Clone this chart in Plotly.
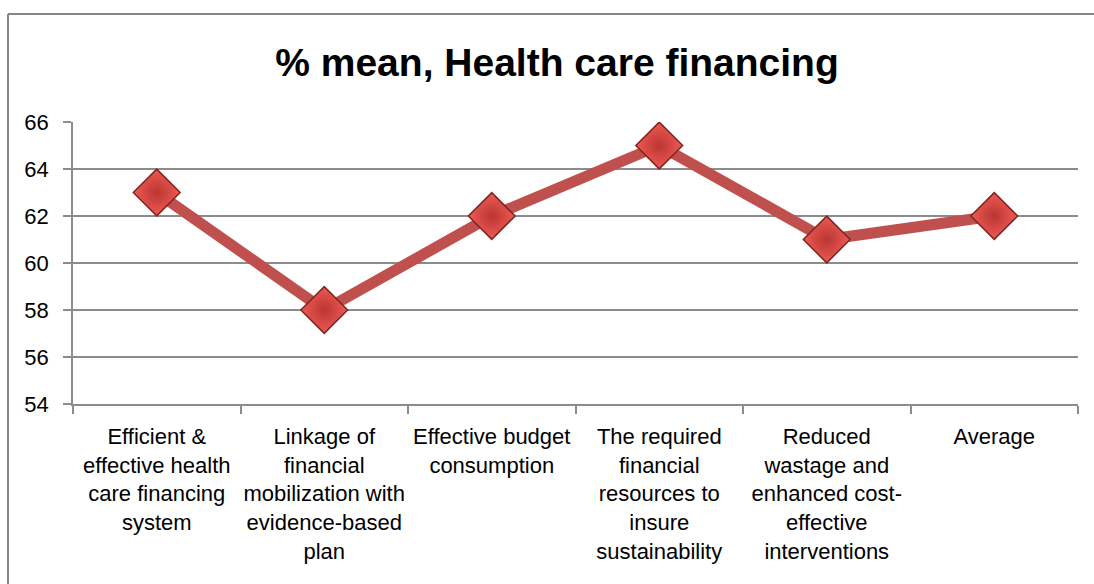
import plotly.graph_objects as go

categories = [
    "Efficient &<br>effective health<br>care financing<br>system",
    "Linkage of<br>financial<br>mobilization with<br>evidence-based<br>plan",
    "Effective budget<br>consumption",
    "The required<br>financial<br>resources to<br>insure<br>sustainability",
    "Reduced<br>wastage and<br>enhanced cost-<br>effective<br>interventions",
    "Average",
]
mean_pct = [63, 58, 62, 65, 61, 62]
y_ticks = [54, 56, 58, 60, 62, 64, 66]

FONT = "Liberation Sans Narrow, Arial Narrow, Liberation Sans, Arial, sans-serif"
GRID = "#8c8c8c"

fig = go.Figure()
fig.add_trace(go.Scatter(
    x=categories,
    y=mean_pct,
    mode="lines+markers",
    line=dict(color="#C0504D", width=11),
    marker=dict(
        symbol="diamond",
        size=36,
        color="#EE5A55",
        gradient=dict(type="radial", color="#BB3531"),
        line=dict(color="#7E2522", width=1.5),
    ),
    showlegend=False,
    hoverinfo="y",
))

W, H = 1094, 584
L, R, T, B = 73, 16, 122, 180
pw, ph = W - L - R, H - T - B

# outer chart frame (top and left edges)
fx0 = (8 - L) / pw
fy1 = (H - B - 14) / ph
fig.add_shape(type="line", xref="paper", yref="paper",
              x0=fx0, x1=(W + 10 - L) / pw, y0=fy1, y1=fy1,
              line=dict(color="#868686", width=2))
fig.add_shape(type="line", xref="paper", yref="paper",
              x0=fx0, x1=fx0, y0=fy1, y1=(H - B - H - 10) / ph,
              line=dict(color="#868686", width=2))

fig.update_layout(
    width=W, height=H,
    margin=dict(l=L, r=R, t=T, b=B),
    paper_bgcolor="white",
    plot_bgcolor="white",
    font=dict(family=FONT, color="black", size=22),
    title=dict(
        text="<b>% mean, Health care financing</b>",
        font=dict(family=FONT, size=39, color="black"),
        x=557 / W, xref="container", xanchor="center",
        y=1 - 62 / H, yref="container", yanchor="middle",
    ),
    xaxis=dict(
        type="category",
        tickson="boundaries",
        ticks="outside", ticklen=8, tickcolor=GRID, tickwidth=1.5,
        showline=True, linecolor=GRID, linewidth=1.5,
        showgrid=False,
        tickfont=dict(size=22),
        tickangle=0,
        ticklabelstandoff=12,
        range=[-0.5, 5.5],
    ),
    yaxis=dict(
        range=[54, 66],
        tickvals=y_ticks,
        ticks="outside", ticklen=8, tickcolor=GRID, tickwidth=1.5,
        showline=True, linecolor=GRID, linewidth=1.5,
        showgrid=True, gridcolor=GRID, gridwidth=1.5,
        tickfont=dict(size=22),
        ticklabelstandoff=10,
        zeroline=False,
    ),
)

fig.write_html("out.html")
